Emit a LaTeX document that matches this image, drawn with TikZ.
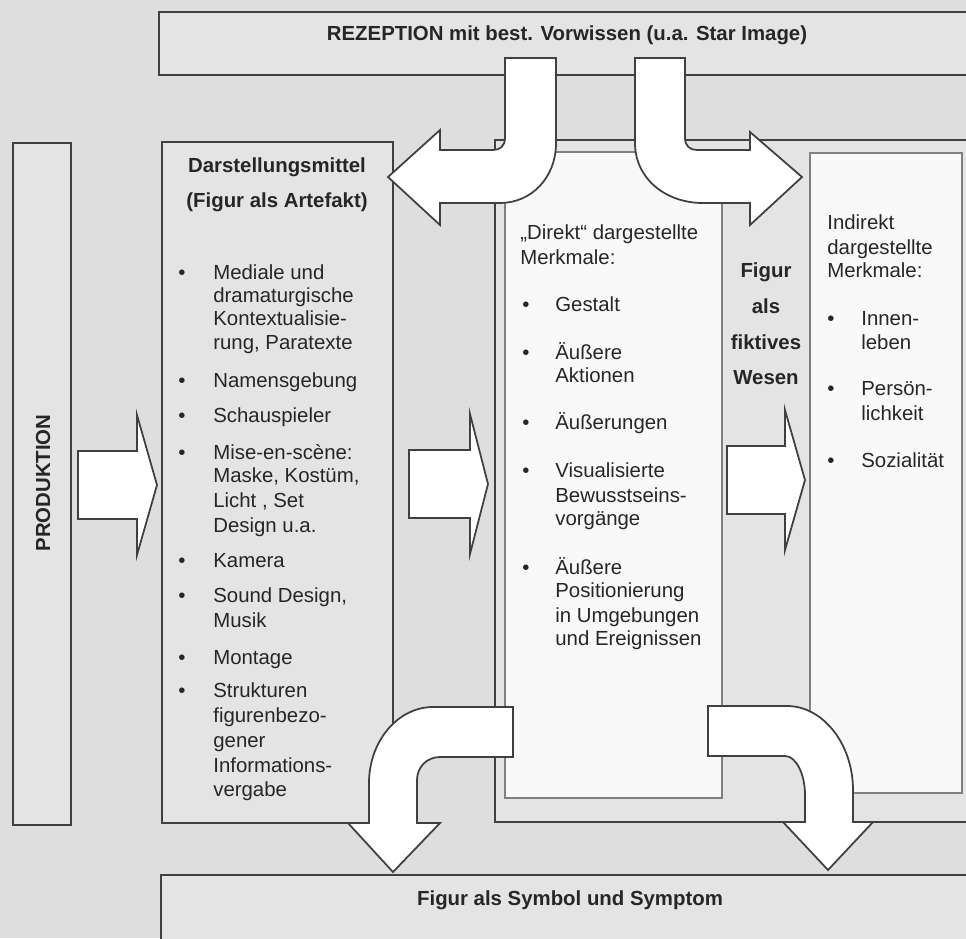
\documentclass[tikz,border=0pt]{standalone}
\usepackage{fontspec}
\setmainfont{Liberation Sans}
\usepackage{xcolor}
\usepackage{tikz}

\definecolor{paper}{gray}{0.87}
\definecolor{boxgray}{gray}{0.895}
\definecolor{inkgray}{gray}{0.25}
\definecolor{thingray}{gray}{0.5}
\definecolor{sheet}{gray}{0.975}

\begin{document}
\begin{tikzpicture}[
    x=0.02cm, y=-0.02cm,
    every node/.style={font=\fontsize{11.6}{13.4}\selectfont, text=black!85, inner sep=0pt},
    mainbox/.style={draw=inkgray, line width=1.3pt, fill=boxgray},
    innerbox/.style={draw=thingray, line width=0.6pt, fill=sheet},
    blockarrow/.style={draw=inkgray, line width=1pt, fill=white},
    txt/.style={anchor=base west},
    dot/.style={anchor=base west},
    head/.style={anchor=base, font=\fontsize{11.6}{13.4}\selectfont\bfseries}
]
\useasboundingbox (0,0) rectangle (966,938);
\clip (0,0) rectangle (966,938);
\fill[paper] (0,0) rectangle (966,938);
\draw[mainbox] (159,12) rectangle (990,75);
\draw[mainbox] (13,143) rectangle (71,825);
\draw[mainbox] (162,142) rectangle (393,823);
\draw[mainbox] (495,140) rectangle (990,822);
\draw[innerbox] (505,152) rectangle (722,798);
\draw[innerbox] (810,153) rectangle (962,793);
\draw[mainbox] (161,875) rectangle (990,990);
\foreach \xs/\xb/\xt/\yc in {78/137/157/485, 409/470/488/484, 727/785/805/480}
  \draw[blockarrow] (\xs,\yc-34) -- (\xb,\yc-34) -- (\xb,\yc-70) -- (\xt,\yc) -- (\xb,\yc+70) -- (\xb,\yc+34) -- (\xs,\yc+34) -- cycle;
\draw[blockarrow] (505,58) -- (556,58) -- (556,143) .. controls (556,178) and (531,203) .. (500,203) -- (440,203) -- (440,225) -- (388,177) -- (440,130) -- (440,150) -- (493,150) .. controls (500,150) and (505,146) .. (505,138) -- cycle;
\draw[blockarrow] (635,58) -- (685,58) -- (685,138) .. controls (685,146) and (690,150) .. (697,150) -- (750,150) -- (750,132) -- (802,177) -- (750,225) -- (750,203) -- (703,203) .. controls (665,203) and (635,178) .. (635,143) -- cycle;
\draw[blockarrow] (513,707) -- (433,707) .. controls (398,707) and (369,741) .. (369,783) -- (369,823) -- (348,823) -- (393,872) -- (440,823) -- (417,823) -- (417,780) .. controls (417,767) and (427,757) .. (440,757) -- (513,757) -- cycle;
\draw[blockarrow] (708,706) -- (787,706) .. controls (823,706) and (853,744) .. (853,790) -- (853,822) -- (873,822) -- (828,870) -- (783,822) -- (805,822) -- (805,795) .. controls (805,774) and (796,756) .. (785,756) -- (708,756) -- cycle;
\node[head] (rez) at (567,40) {REZEPTION mit best. Vorwissen (u.a. Star Image)};
\node[head] (sym) at (570,905) {Figur als Symbol und Symptom};
\node[head, rotate=90, anchor=center] (prod) at (43,483) {PRODUKTION};
\node[head] (dm1) at (277,172) {Darstellungsmittel};
\node[head] (dm2) at (277,207) {(Figur als Artefakt)};
\foreach \y/\t [count=\i] in {279/Mediale und, 302/dramaturgische, 325/Kontextualisie-, 349/{rung, Paratexte}, 387/Namensgebung, 422/Schauspieler, 459/Mise-en-scène:, 482/{Maske, Kostüm,}, 507/{Licht , Set}, 532/Design u.a., 567/Kamera, 602/{Sound Design,}, 627/Musik, 664/Montage, 697/Strukturen, 722/figurenbezo-, 747/gener, 772/Informations-, 796/vergabe}
  \node[txt] (dl\i) at (213,\y) {\t};
\foreach \y [count=\i] in {279,387,422,459,567,602,664,697}
  \node[dot] (db\i) at (178,\y) {•};
\node[txt] (dk1) at (520,239) {„Direkt“ dargestellte};
\node[txt] (dk2) at (520,264) {Merkmale:};
\foreach \y/\t [count=\i] in {311/Gestalt, 359/Äußere, 382/Aktionen, 429/Äußerungen, 477/Visualisierte, 502/Bewusstseins-, 525/vorgänge, 574/Äußere, 597/Positionierung, 622/in Umgebungen, 645/und Ereignissen}
  \node[txt] (dr\i) at (555,\y) {\t};
\foreach \y [count=\i] in {311,359,429,477,574}
  \node[dot] (dd\i) at (522,\y) {•};
\foreach \y/\t [count=\i] in {277/Figur, 313/als, 349/fiktives, 384/Wesen}
  \node[head] (fw\i) at (766,\y) {\t};
\node[txt] (ik1) at (827,229) {Indirekt};
\node[txt] (ik2) at (827,254) {dargestellte};
\node[txt] (ik3) at (827,277) {Merkmale:};
\foreach \y/\t [count=\i] in {325/Innen-, 349/leben, 395/Persön-, 420/lichkeit, 467/Sozialität}
  \node[txt] (il\i) at (861,\y) {\t};
\foreach \y [count=\i] in {325,395,467}
  \node[dot] (id\i) at (827,\y) {•};
\end{tikzpicture}
\end{document}
